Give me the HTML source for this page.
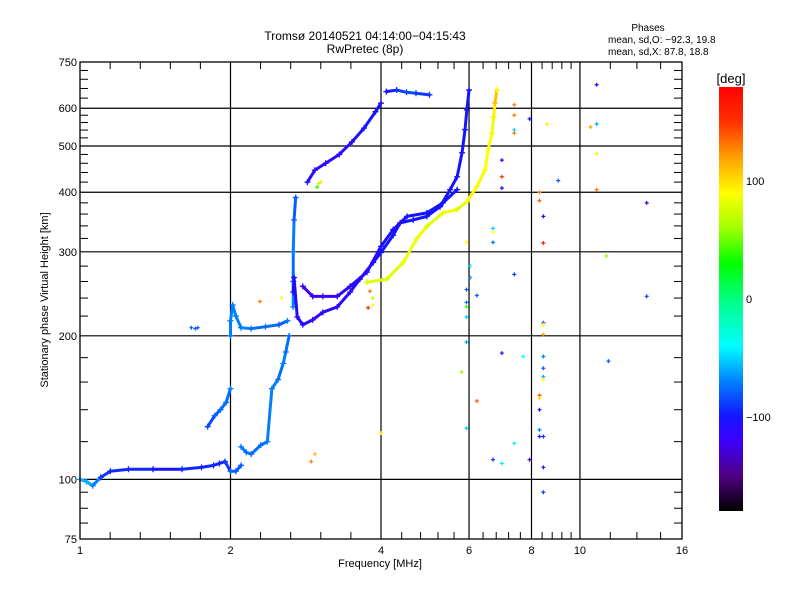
<!DOCTYPE html>
<html><head><meta charset="utf-8"><style>
body{margin:0;background:#fff;}
svg text{font-family:"Liberation Sans",sans-serif;fill:#000;}
</style></head><body>
<svg id="chart" width="800" height="600" xmlns="http://www.w3.org/2000/svg">
<rect width="800" height="600" fill="#fff"/>
<g id="grid"></g>
<g id="marks"></g>
<g id="axes"></g>
<g id="cbar"></g>
<text x="365" y="40" font-size="12" text-anchor="middle">Tromsø 20140521 04:14:00−04:15:43</text>
<text x="365" y="53" font-size="12" text-anchor="middle">RwPretec (8p)</text>
<text x="648" y="31" font-size="10" text-anchor="middle">Phases</text>
<text x="608" y="43" font-size="10">mean, sd,O: −92.3, 19.8</text>
<text x="608" y="55" font-size="10">mean, sd,X:  87.8, 18.8</text>
<text x="380" y="567" font-size="11" text-anchor="middle">Frequency [MHz]</text>
<text transform="translate(48,300) rotate(-90)" font-size="11" text-anchor="middle">Stationary phase Virtual Height [km]</text>
</svg>
<script>
const xMajor=[1,2,4,6,8,10,16];
const xMinor=[1.149,1.32,1.516,1.741,2.297,2.639,3.031,3.482,4.4,4.8,5.2,5.6,6.4,6.8,7.2,7.6,8.4,8.8,9.2,9.6,11.5,13,14.5];
const yMajor=[75,100,200,300,400,500,600,750];
const yMinor=[81,87,94,120,140,160,180,220,240,260,280,320,340,360,380,420,440,460,480,520,540,560,580,630,660,690,720];
const cbarLabels=[100,0,-100];
const traceFreqs=[
 [1.0,1.03,1.06,1.1,1.15,1.25,1.4,1.6,1.75,1.85,1.9,1.95,2.0,2.05,2.1],
 [1.8,1.86,1.91,1.96,2.0],
 [2.0,2.0,2.02,2.05,2.1,2.2,2.35,2.5,2.6],
 [2.1,2.15,2.2,2.3,2.37,2.42,2.49,2.55,2.58,2.62],
 [2.67,2.67,2.67,2.68,2.7],
 [2.67,2.68,2.72,2.79,2.92,3.06,3.27,3.47,3.63,3.86,4.0,4.23,4.37,4.64,4.94,5.25,5.5,5.68,5.81,5.89,5.94,6.0],
 [2.79,2.92,3.06,3.27,3.47,3.75,4.0,4.23,4.51,4.94,5.32,5.68],
 [2.85,2.95,3.1,3.3,3.5,3.7,3.9,4.0],
 [4.1,4.3,4.5,4.7,5.0],
 [3.75,4.11,4.43,4.72,4.94,5.32,5.68,5.94,6.22,6.46,6.55,6.67,6.72,6.76,6.82]
];
const traceHeights=[
 [100,99,97,101,104,105,105,105,106,107,108,109,104,104,107],
 [129,136,140,145,155],
 [200,215,232,220,208,207,209,211,215],
 [117,114,113,118,120,155,162,175,185,200],
 [230,260,300,350,390],
 [247,265,219,211,216,224,230,247,263,285,299,325,345,350,356,373,405,431,484,541,595,655],
 [254,242,242,242,254,272,308,334,356,362,380,405],
 [420,445,460,480,510,545,590,615],
 [650,655,648,645,640],
 [259,263,285,320,339,362,368,382,411,445,491,532,575,615,655]
];
const tracePhases=[
 [-60,-60,-70,-90,-95,-95,-100,-95,-95,-95,-95,-90,-80,-80,-80],
 [-85,-80,-75,-75,-70],
 [-70,-70,-70,-70,-70,-75,-75,-80,-70],
 [-70,-75,-75,-75,-70,-70,-75,-70,-75,-75],
 [-70,-75,-70,-80,-80],
 [-100,-110,-110,-110,-120,-110,-110,-110,-110,-105,-100,-100,-100,-100,-100,-100,-100,-100,-100,-100,-100,-100],
 [-120,-120,-120,-115,-110,-110,-105,-105,-100,-100,-100,-100],
 [-110,-110,-115,-110,-105,-100,-100,-110],
 [-100,-90,-85,-90,-90],
 [80,80,85,85,80,85,80,90,85,90,90,85,95,110,90]
];
const scatFreqs=[7.39,7.39,7.39,7.39,7.93,8.6,10.8,10.8,10.5,10.8,10.8,9.05,6.98,6.98,6.98,8.3,8.3,8.45,8.45,6.7,6.7,6.7,5.93,11.3,13.6,13.6,6.03,6.03,5.93,6.22,7.39,5.93,5.93,5.93,8.45,8.45,8.45,5.93,6.98,7.7,8.45,8.45,8.45,8.45,5.8,11.4,6.22,8.3,8.3,8.3,5.93,8.3,8.3,8.45,7.39,6.7,6.98,7.93,8.45,8.45,2.29,2.53,3.0,3.03,2.98,3.77,3.85,3.85,3.8,2.9,2.95,4.0,1.67,1.7,1.72];
const scatHeights=[610,580,540,532,570,555,672,556,548,482,405,423,467,431,408,400,384,356,313,336,330,314,314,294,380,242,280,265,250,243,269,235,230,219,213,211,201,194,184,181,181,171,164,162,168,177,146,150,148,140,128,127,123,123,119,110,108,110,106,94,236,240,417,420,410,229,240,232,248,109,113,125,208,207,208];
const scatPhases=[130,130,-50,130,-100,95,-110,-60,120,95,130,-80,-110,150,-110,130,140,-100,160,-50,90,-70,90,60,-130,-90,-40,-60,-80,-80,-90,-70,40,-50,-80,90,120,-60,-120,-40,-70,-80,-65,90,60,-80,140,140,100,-100,-50,-70,-95,-90,-40,-90,-45,-130,-100,-90,130,90,70,95,40,160,70,90,130,130,110,95,-80,-80,-80];

const L=80,R=682,T=62,B=539;
const xs=f=>L+(R-L)*Math.log2(f)/4;
const ys=h=>B-(B-T)*Math.log10(h/75);
const cmapP=[-180,-150,-120,-100,-70,-40,0,30,60,90,120,150,180];
const cmapC=[[0,0,0],[80,0,130],[60,0,255],[20,20,255],[0,128,255],[0,255,255],[0,255,128],[0,255,0],[160,255,0],[255,255,0],[255,160,0],[255,50,0],[255,0,0]];
function col(p){p=Math.max(-180,Math.min(180,p));let i=0;while(i<cmapP.length-2&&p>cmapP[i+1])i++;const t=(p-cmapP[i])/(cmapP[i+1]-cmapP[i]);const c=cmapC[i].map((v,k)=>Math.round(v+(cmapC[i+1][k]-v)*t));return`rgb(${c[0]},${c[1]},${c[2]})`;}
const NS='http://www.w3.org/2000/svg';
function mk(tag,attrs,parent){const e=document.createElementNS(NS,tag);for(const k in attrs)e.setAttribute(k,attrs[k]);parent.appendChild(e);return e;}
const grid=document.getElementById('grid'),marks=document.getElementById('marks'),axes=document.getElementById('axes'),cbar=document.getElementById('cbar');
xMajor.slice(1,-1).forEach(f=>{const l=mk('line',{x1:xs(f),x2:xs(f),y1:T,y2:B,stroke:'#000','stroke-width':1.2},grid);

});
yMajor.slice(1,-1).forEach(h=>{const l=mk('line',{x1:L,x2:R,y1:ys(h),y2:ys(h),stroke:'#000','stroke-width':1.2},grid);

});
traceFreqs.forEach((fr,t)=>{
 for(let i=0;i<fr.length-1;i++){const s=mk('line',{x1:xs(fr[i]),y1:ys(traceHeights[t][i]),x2:xs(fr[i+1]),y2:ys(traceHeights[t][i+1]),stroke:col(tracePhases[t][i]),'stroke-width':3,'stroke-linecap':'round'},marks);
 
 }
 fr.forEach((f,i)=>{const x=xs(f),y=ys(traceHeights[t][i]);const p=mk('path',{d:`M${x-3},${y}h6M${x},${y-3}v6`,stroke:col(tracePhases[t][i]),'stroke-width':1.3},marks);
 
 });
});
scatFreqs.forEach((f,i)=>{const x=xs(f),y=ys(scatHeights[i]);const p=mk('path',{d:`M${x-2},${y}h4M${x},${y-2}v4`,stroke:col(scatPhases[i]),'stroke-width':1.2},marks);

});
const fr=mk('rect',{x:L,y:T,width:R-L,height:B-T,fill:'none',stroke:'#000','stroke-width':1.3},axes);


xMinor.forEach(f=>{const x=xs(f);mk('line',{x1:x,x2:x,y1:B,y2:B-7,stroke:'#000'},axes);mk('line',{x1:x,x2:x,y1:T,y2:T+7,stroke:'#000'},axes);});
yMinor.forEach(h=>{const y=ys(h);mk('line',{x1:L,x2:L+8,y1:y,y2:y,stroke:'#000'},axes);mk('line',{x1:R,x2:R-8,y1:y,y2:y,stroke:'#000'},axes);});
xMajor.forEach(f=>{const t=mk('text',{x:xs(f),y:B+15,'font-size':11,'text-anchor':'middle'},axes);t.textContent=f;

});
yMajor.forEach(h=>{const t=mk('text',{x:L-3,y:ys(h)+4,'font-size':11,'text-anchor':'end'},axes);t.textContent=h;

});
const CT=87,CB=511,CX=719,CW=24;const cy=p=>CT+(CB-CT)*(180-p)/360;
const defs=mk('defs',{},cbar);const g=mk('linearGradient',{id:'cg',x1:0,y1:0,x2:0,y2:1},defs);
for(let k=0;k<=36;k++){const p=180-k*10;mk('stop',{offset:k/36,'stop-color':col(p)},g);}
const cr=mk('rect',{x:CX,y:CT,width:CW,height:CB-CT,fill:'url(#cg)'},cbar);


cbarLabels.forEach(v=>{const t=mk('text',{x:CX+CW+3,y:cy(v)+4,'font-size':11},cbar);t.textContent=(v<0?'−':'')+Math.abs(v);

});
const u=mk('text',{x:CX+CW/2,y:CT-4,'font-size':13,'text-anchor':'middle'},cbar);u.textContent='[deg]';


</script>
</body></html>
